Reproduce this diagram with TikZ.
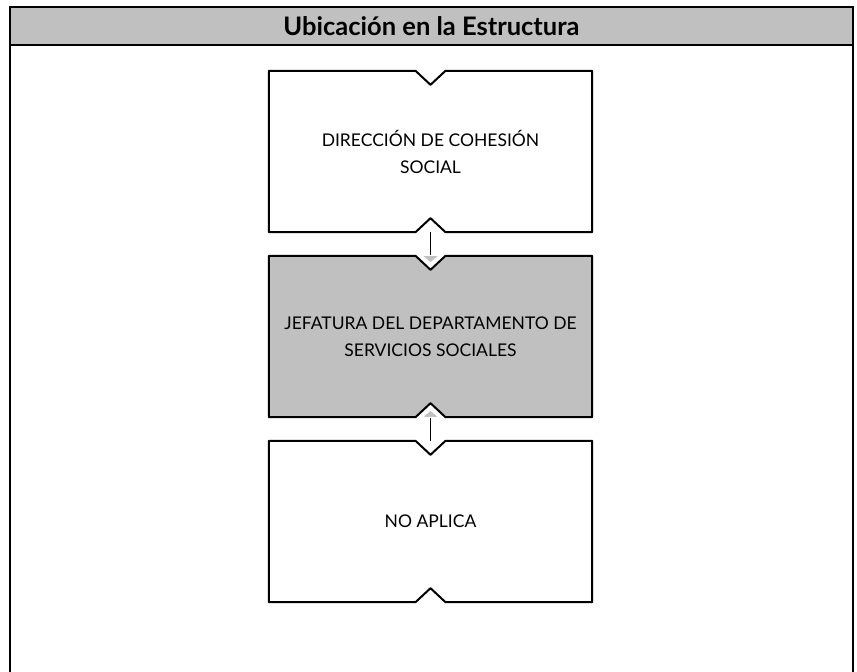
\documentclass[tikz,border=0pt]{standalone}
\usepackage{fontspec}
\setmainfont{Lato}
\usetikzlibrary{arrows.meta, positioning, calc, backgrounds}
\definecolor{grisclaro}{RGB}{192,192,192}

\begin{document}
\begin{tikzpicture}[x=1pt,y=1pt,
  caja/.style={minimum width=323pt,minimum height=161pt,inner sep=0pt,align=center,
    font=\fontsize{17.5}{27}\selectfont},
  contorno/.style={line width=2pt,line join=round},
  flecha/.style={line width=1.5pt,shorten >=-8pt,
    -{Triangle[width=21pt,length=9pt,fill=grisclaro,color=white,line width=1.2pt]}}]
  \useasboundingbox (0,0) rectangle (857,672);

  % ---------- encabezado ----------
  \node[draw,fill=grisclaro,line width=2pt,minimum width=843pt,minimum height=38pt,
    font=\fontsize{25.5}{28}\selectfont\bfseries] (titulo) at (431.5,646) {Ubicación en la Estructura};
  \draw[line width=2.5pt] (10,-10) rectangle (853,665);

  % ---------- cajas ----------
  \node[caja] (dir)  at (430.5,520.5) {DIRECCIÓN DE COHESIÓN\\ SOCIAL};
  \node[caja] (jef)  at (430.5,335.5) {JEFATURA DEL DEPARTAMENTO DE\\ SERVICIOS SOCIALES};
  \node[caja] (noap) at (430.5,150.5) {NO APLICA};

  % contorno con muescas arriba y abajo, detras del texto
  \begin{pgfonlayer}{background}
    \foreach \n/\c in {dir/white,jef/grisclaro,noap/white}
      \draw[contorno,fill=\c] (\n.north west) -- ($(\n.north)+(-15,0)$) -- ($(\n.north)+(0,-14)$)
        -- ($(\n.north)+(15,0)$) -- (\n.north east) -- (\n.south east) -- ($(\n.south)+(15,0)$)
        -- ($(\n.south)+(0,14)$) -- ($(\n.south)+(-15,0)$) -- (\n.south west) -- cycle;
  \end{pgfonlayer}

  % ---------- flechas ----------
  \draw[flecha] (dir.south) -- (jef.north);
  \draw[flecha] (noap.north) -- (jef.south);
\end{tikzpicture}
\end{document}
